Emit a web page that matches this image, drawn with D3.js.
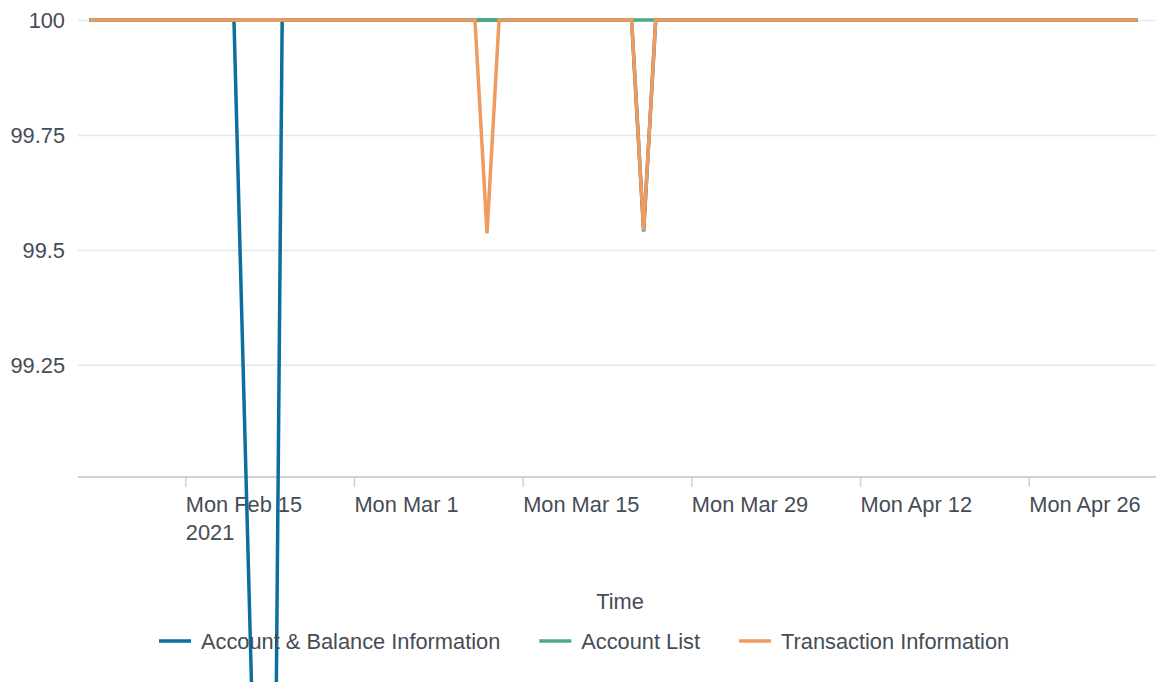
<!DOCTYPE html>
<html>
<head>
<meta charset="utf-8">
<script src="https://cdn.jsdelivr.net/npm/d3@7"></script>
<style>
  body { margin: 0; background: #fff; }
  svg { display: block; font-family: 'Liberation Sans', Arial, sans-serif; }
  .gridlines line { stroke: #e4e8ed; stroke-width: 1.5; }
  .gridlines .domain { display: none; }
  .axis-text { fill: #454c56; font-size: 21.8px; }
</style>
</head>
<body>
<div id="chart"></div>
<script>
const seriesNames = ['Account & Balance Information', 'Account List', 'Transaction Information'];
const seriesColors = ['#0b6e9e', '#4daa87', '#ef9a5e'];

// vertices of each line (daily data, flat stretches at 100 left out)
const balanceDates = ['2021-02-07', '2021-02-19', '2021-02-22', '2021-02-23', '2021-03-24', '2021-03-25', '2021-03-26', '2021-05-05'];
const balanceValues = [100, 100, 97.02, 100, 100, 99.54, 100, 100];

const listDates = ['2021-02-07', '2021-03-11', '2021-03-12', '2021-03-13', '2021-03-24', '2021-03-25', '2021-03-26', '2021-05-05'];
const listValues = [100, 100, 100, 100, 100, 100, 100, 100];

const transactionDates = ['2021-02-07', '2021-03-11', '2021-03-12', '2021-03-13', '2021-03-24', '2021-03-25', '2021-03-26', '2021-05-05'];
const transactionValues = [100, 100, 99.536, 100, 100, 99.542, 100, 100];

const xTicks = ['2021-02-15', '2021-03-01', '2021-03-15', '2021-03-29', '2021-04-12', '2021-04-26'];
const yTicks = [99.25, 99.5, 99.75, 100];

const width = 1156;
const height = 682;
const margin = { top: 20, right: 0, bottom: 205, left: 78 };

const parseDay = d3.timeParse('%Y-%m-%d');

const series = [
  { name: seriesNames[0], color: seriesColors[0], dates: balanceDates, values: balanceValues },
  { name: seriesNames[1], color: seriesColors[1], dates: listDates, values: listValues },
  { name: seriesNames[2], color: seriesColors[2], dates: transactionDates, values: transactionValues },
].map((s) => ({
  ...s,
  points: s.dates.map((d, i) => ({ date: parseDay(d), value: s.values[i] })),
}));

const svg = d3
  .select('#chart')
  .append('svg')
  .attr('width', width)
  .attr('height', height)
  .style('overflow', 'hidden');

const xScale = d3
  .scaleTime()
  .domain([new Date(2021, 1, 6, 1, 20), new Date(2021, 4, 6, 12, 30)])
  .range([margin.left, width - margin.right]);

const yScale = d3
  .scaleLinear()
  .domain([99.006, 100])
  .range([height - margin.bottom, margin.top]);

// horizontal gridlines
svg
  .append('g')
  .attr('class', 'gridlines')
  .attr('transform', `translate(${margin.left}, 0)`)
  .call(d3.axisLeft(yScale).tickValues(yTicks).tickFormat('').tickSize(-(width - margin.left - margin.right)));

// y labels
svg
  .append('g')
  .selectAll('text')
  .data(yTicks)
  .join('text')
  .attr('class', 'axis-text')
  .attr('x', margin.left - 13)
  .attr('y', (d) => yScale(d) + 8)
  .attr('text-anchor', 'end')
  .text((d) => d3.format('~g')(d));

// x axis
const xAxis = svg.append('g').attr('transform', `translate(0, ${height - margin.bottom})`);
xAxis
  .append('line')
  .attr('x1', margin.left)
  .attr('x2', width - margin.right)
  .attr('stroke', '#cad2dc')
  .attr('stroke-width', 2);

const tickG = xAxis
  .selectAll('.tick')
  .data(xTicks.map(parseDay))
  .join('g')
  .attr('class', 'tick')
  .attr('transform', (d) => `translate(${xScale(d)}, 0)`);

tickG.append('line').attr('y2', 10).attr('stroke', '#cad2dc').attr('stroke-width', 1.5);

tickG
  .append('text')
  .attr('class', 'axis-text')
  .attr('y', 35)
  .text((d) => d3.timeFormat('%a %b %-d')(d));

tickG
  .filter((d, i) => i === 0)
  .append('text')
  .attr('class', 'axis-text')
  .attr('y', 62.5)
  .text((d) => d3.timeFormat('%Y')(d));

// axis title
svg
  .append('text')
  .attr('class', 'axis-text')
  .attr('x', (margin.left + width - margin.right) / 2 + 3)
  .attr('y', 609)
  .attr('text-anchor', 'middle')
  .text('Time');

// lines
const line = d3
  .line()
  .x((d) => xScale(d.date))
  .y((d) => yScale(d.value));

svg
  .append('g')
  .selectAll('path')
  .data(series)
  .join('path')
  .attr('d', (d) => line(d.points))
  .attr('fill', 'none')
  .attr('stroke', (d) => d.color)
  .attr('stroke-width', 3.5)
  .attr('stroke-linejoin', 'miter');

// legend
const legend = svg.append('g').attr('transform', 'translate(159, 641)');
let offset = 0;
series.forEach((s) => {
  const item = legend.append('g').attr('transform', `translate(${offset}, 0)`);
  item
    .append('line')
    .attr('x1', 0)
    .attr('x2', 32)
    .attr('stroke', s.color)
    .attr('stroke-width', 3.5);
  const label = item
    .append('text')
    .attr('class', 'axis-text')
    .attr('x', 42)
    .attr('y', 7.5)
    .text(s.name);
  offset += 42 + label.node().getComputedTextLength() + 39;
});
</script>
</body>
</html>
